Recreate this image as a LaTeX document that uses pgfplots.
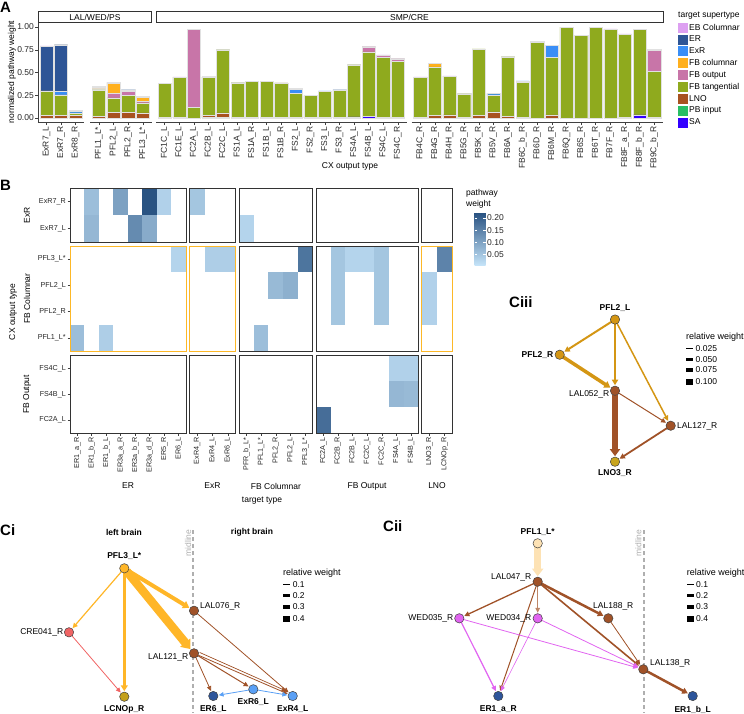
\documentclass[border=0pt]{standalone}
\usepackage{fontspec}
\setmainfont{Liberation Sans}
\setsansfont{Liberation Sans}
\usepackage{pgfplots}
\pgfplotsset{compat=1.18}
\usepackage{pgfplotstable}
\usetikzlibrary{arrows.meta}

% stacked-bar colours (panel A)
\definecolor{cEB}{RGB}{221,160,241}
\definecolor{cER}{RGB}{46,85,150}
\definecolor{cExR}{RGB}{58,142,246}
\definecolor{cFBc}{RGB}{255,176,30}
\definecolor{cFBo}{RGB}{200,117,168}
\definecolor{cFBt}{RGB}{143,170,30}
\definecolor{cLNO}{RGB}{168,82,32}
\definecolor{cPB}{RGB}{40,190,100}
\definecolor{cSA}{RGB}{50,0,255}
\definecolor{barline}{RGB}{225,225,225}
% heatmap (panel B)
\definecolor{hmlo}{RGB}{196,227,248}
\definecolor{hmhi}{RGB}{38,80,128}
\definecolor{orangeb}{RGB}{253,184,39}
% networks (panel C)
\definecolor{nOr}{RGB}{255,182,40}
\definecolor{nSal}{RGB}{240,100,100}
\definecolor{nBr}{RGB}{160,82,40}
\definecolor{nLB}{RGB}{90,160,245}
\definecolor{nDB}{RGB}{45,85,155}
\definecolor{nLC}{RGB}{196,160,28}
\definecolor{nGold}{RGB}{212,150,20}
\definecolor{nLNO}{RGB}{200,165,30}
\definecolor{nPe}{RGB}{253,226,180}
\definecolor{nMag}{RGB}{225,100,240}
\definecolor{midgray}{RGB}{175,175,175}

\newcommand{\fa}{\fontsize{8.5}{10}\selectfont}
\newcommand{\fb}{\fontsize{7.2}{8.6}\selectfont}
\newcommand{\fbig}{\fontsize{15}{18}\selectfont\bfseries}

% ---- panel A data: one table per facet, stacking order bottom->top
\pgfplotstableread{
x SA PB LNO FBt FBo FBc ExR ER EBc
1 0 0 0.030 0.260 0 0.008 0 0.490 0.005
2 0 0 0.030 0.220 0 0.005 0.040 0.510 0.005
3 0 0 0.025 0.030 0 0 0.015 0 0.015
}\tExR
\pgfplotstableread{
x SA PB LNO FBt FBo FBc ExR ER EBc
1 0 0 0.020 0.290 0 0.010 0.005 0.015 0.005
2 0 0 0.065 0.155 0.050 0.110 0.010 0 0.005
3 0 0 0.065 0.180 0.050 0.005 0.010 0 0.003
4 0 0 0.055 0.110 0.015 0.045 0.010 0 0.003
}\tPFL
\pgfplotstableread{
x SA PB LNO FBt FBo FBc ExR ER EBc
1 0 0 0.008 0.370 0 0 0 0 0.005
2 0.005 0 0 0.445 0 0 0 0 0.003
3 0 0 0 0.120 0.855 0 0 0 0.003
4 0 0.010 0.020 0.420 0 0 0 0 0.005
5 0 0.005 0.050 0.695 0 0 0 0 0.005
6 0 0 0.010 0.375 0 0 0.003 0 0.005
7 0 0 0.010 0.390 0 0 0 0 0.003
8 0 0 0.010 0.390 0 0 0 0 0.004
9 0 0 0.010 0.375 0 0 0 0 0.002
10 0 0 0.010 0.258 0 0 0.048 0 0.008
11 0 0 0.010 0.236 0 0 0 0 0
12 0 0 0.005 0.285 0 0 0.008 0 0
13 0 0 0.005 0.295 0 0 0.008 0 0.005
14 0.012 0 0 0.573 0 0 0 0 0.005
15 0.015 0 0 0.713 0.055 0 0 0 0.007
16 0.005 0 0 0.660 0.025 0 0 0 0.005
17 0.004 0 0 0.616 0.030 0 0 0 0.005
}\tFS
\pgfplotstableread{
x SA PB LNO FBt FBo FBc ExR ER EBc
1 0 0 0.004 0.445 0 0 0 0 0.003
2 0 0 0.025 0.537 0 0.038 0 0 0
3 0 0 0.035 0.425 0 0 0 0 0.004
4 0 0 0.003 0.262 0 0 0 0 0.005
5 0 0 0.025 0.735 0 0 0 0 0
6 0 0 0.066 0.188 0 0 0.014 0 0.006
7 0 0 0.015 0.658 0 0 0.008 0 0
8 0.008 0 0 0.385 0 0 0.015 0 0
9 0 0 0 0.835 0 0 0 0 0.005
10 0 0 0.035 0.630 0 0 0.130 0 0
11 0 0 0 1.000 0 0 0 0 0
12 0 0 0 0.908 0 0 0 0 0
13 0 0 0 1.000 0 0 0 0 0
14 0 0 0 0.974 0 0 0 0 0.005
15 0 0 0.003 0.916 0 0 0 0 0.006
16 0.033 0 0 0.945 0 0 0 0 0
17 0.005 0 0 0.505 0.240 0 0 0 0.006
}\tFB

\newcommand{\stackbars}[1]{%
  \addplot[fill=cSA, draw=barline] table[x=x,y=SA]{#1};
  \addplot[fill=cPB, draw=barline] table[x=x,y=PB]{#1};
  \addplot[fill=cLNO, draw=barline] table[x=x,y=LNO]{#1};
  \addplot[fill=cFBt, draw=barline] table[x=x,y=FBt]{#1};
  \addplot[fill=cFBo, draw=barline] table[x=x,y=FBo]{#1};
  \addplot[fill=cFBc, draw=barline] table[x=x,y=FBc]{#1};
  \addplot[fill=cExR, draw=barline] table[x=x,y=ExR]{#1};
  \addplot[fill=cER, draw=barline] table[x=x,y=ER]{#1};
  \addplot[fill=cEB, draw=barline] table[x=x,y=EBc]{#1};
}

% ---- panel B: one heatmap cell = unit square around (col,row)
\pgfplotstableread{
dx dy
-0.5 -0.5
0.5 -0.5
0.5 0.5
-0.5 0.5
}\usq
\newcommand{\tile}[3]{\addplot[mark=none, draw=none, fill=hmhi!#3!hmlo]
  table[x expr=\thisrow{dx}+#1, y expr=\thisrow{dy}+#2]{\usq};}
\newcommand{\facet}[8]{%
  \begin{axis}[hm, at={(#1pt,-#2pt)}, width=#3pt, height=#4pt, xmax=#5, ymax=#6, #7]
  #8
  \end{axis}}

% ---- panel C helpers
\newcommand{\nd}[2]{\addplot[only marks, mark=*, mark size=4.7pt,
  mark options={fill=#2, draw=black!75, line width=0.5pt}] coordinates {#1};}
\newcommand{\ed}[4]{\addplot[no marks, line width=#3pt, color=#4,
  shorten <=4pt, shorten >=5.5pt,
  -{Triangle[length=4.5pt 0.45, width=3.5pt 1.1]}] coordinates {#1 #2};}
\newcommand{\lab}[4][]{\node[inner sep=0pt, font=\fa, #1] at (#2pt,-#3pt) {#4};}
\newcommand{\wk}[3]{\fill[black] (#1pt,{-(#2+#3/2)*1pt}) rectangle ({(#1+7)*1pt},{-(#2-#3/2)*1pt});}

\pgfplotsset{
  barA/.style={scale only axis, anchor=south west, height=100pt,
    ymin=-0.05, ymax=1.05, xmin=0.4, enlargelimits=false,
    ybar stacked, bar width=0.9,
    axis x line*=bottom,
    tick align=outside, major tick length=2.5pt,
    tick style={black!75, line width=0.5pt},
    axis line style={black!75, line width=0.5pt},
    xticklabel style={rotate=90, anchor=east, font=\fa, text=black!85, inner sep=1.5pt},
    yticklabel style={font=\fa, text=black!85, inner sep=1.5pt}},
  hm/.style={scale only axis, anchor=north west, xmin=0.5, ymin=0.5,
    enlargelimits=false, axis on top, xtick=\empty, ytick=\empty,
    tick align=outside, major tick length=2.5pt,
    tick style={black!75, line width=0.5pt},
    axis line style={black!80, line width=0.6pt},
    xtick pos=left, ytick pos=left,
    xticklabel style={rotate=90, anchor=east, font=\fb, text=black!85, inner sep=1.5pt},
    yticklabel style={font=\fb, text=black!85, inner sep=1.5pt}},
  hmor/.style={axis line style={orangeb, line width=0.8pt}},
  rowA/.style={ytick={1,2}, yticklabels={ExR7\_L,ExR7\_R}},
  rowB/.style={ytick={1,2,3,4}, yticklabels={PFL1\_L*,PFL2\_R,PFL2\_L,PFL3\_L*}},
  rowC/.style={ytick={1,2,3}, yticklabels={FC2A\_L,FS4B\_L,FS4C\_L}},
}

\begin{document}
\begin{tikzpicture}
\path[use as bounding box] (0pt,0pt) rectangle (744pt,-713pt);

% ================= panel A =================
\node[font=\fbig, anchor=base west, inner sep=0pt] at (0pt,-12.7pt) {A};
\draw[black!80, line width=0.6pt, fill=white] (38pt,-11.7pt) rectangle (151.7pt,-22.3pt);
\draw[black!80, line width=0.6pt, fill=white] (156pt,-11.7pt) rectangle (663pt,-22.3pt);
\lab{95}{17}{LAL/WED/PS}
\lab{409.5}{17}{SMP/CRE}
\lab[rotate=90]{12}{72}{normalized pathway weight}
\lab{350}{166}{CX output type}

\begin{axis}[barA, at={(38pt,-122.5pt)}, width=46pt, xmax=3.6,
  axis y line*=left, ytick={0,0.25,0.5,0.75,1},
  yticklabels={0.00,0.25,0.50,0.75,1.00},
  xtick={1,2,3}, xticklabels={ExR7\_L,ExR7\_R,ExR8\_R}]
\stackbars{\tExR}
\end{axis}

\begin{axis}[barA, hide y axis, at={(90pt,-122.5pt)}, width=61.7pt, xmax=4.6,
  xtick={1,...,4}, xticklabels={PFL1\_L*,PFL2\_L,PFL2\_R,PFL3\_L*}]
\stackbars{\tPFL}
\end{axis}

\begin{axis}[barA, hide y axis, at={(156pt,-122.5pt)}, width=250.5pt, xmax=17.6,
  xtick={1,...,17},
  xticklabels={FC1C\_L,FC1E\_L,FC2A\_L,FC2B\_L,FC2C\_L,FS1A\_L,FS1A\_R,FS1B\_L,FS1B\_R,FS2\_L,FS2\_R,FS3\_L,FS3\_R,FS4A\_L,FS4B\_L,FS4C\_L,FS4C\_R}]
\stackbars{\tFS}
\end{axis}

\begin{axis}[barA, hide y axis, at={(411.5pt,-122.5pt)}, width=251.5pt, xmax=17.6,
  xtick={1,...,17},
  xticklabels={FB4C\_R,FB4G\_R,FB4H\_R,FB5G\_R,FB5K\_R,FB5V\_R,FB6A\_R,FB6C\_b\_R,FB6D\_R,FB6M\_R,FB6Q\_R,FB6S\_R,FB6T\_R,FB7F\_R,FB8F\_a\_R,FB8F\_b\_R,FB9C\_b\_R},
  legend entries={SA,PB input,LNO,FB tangential,FB output,FB columnar,ExR,ER,EB Columnar},
  reverse legend,
  legend style={at={(axis description cs:1.0596,1.0)}, anchor=north west,
    draw=none, fill=none, font=\fa, row sep=1.85pt, inner sep=0pt,
    nodes={inner sep=1pt}},
  legend cell align=left,
  legend image code/.code={\draw[#1, draw=none] (0pt,-5pt) rectangle (10pt,5pt);}]
\stackbars{\tFB}
\end{axis}
\lab[anchor=west]{678}{16}{target supertype}

% ================= panel B =================
\node[font=\fbig, anchor=base west, inner sep=0pt] at (0pt,-190pt) {B};

% row ExR
\facet{70}{188}{116}{54.3}{8.5}{2.5}{rowA}{%
  \tile{2}{2}{25}\tile{4}{2}{45}\tile{6}{2}{98}\tile{7}{2}{12}
  \tile{2}{1}{30}\tile{5}{1}{60}\tile{6}{1}{38}}
\facet{189.5}{188}{46}{54.3}{3.5}{2.5}{}{\tile{1}{2}{20}}
\facet{239}{188}{73.7}{54.3}{5.5}{2.5}{}{\tile{1}{1}{10}}
\facet{316}{188}{102.3}{54.3}{7.5}{2.5}{}{}
\facet{421.7}{188}{30.6}{54.3}{2.5}{2.5}{}{}
% row FB Columnar
\facet{70}{246}{116}{105}{8.5}{4.5}{rowB,hmor}{%
  \tile{8}{4}{10}\tile{1}{1}{25}\tile{3}{1}{14}}
\facet{189.5}{246}{46}{105}{3.5}{4.5}{hmor}{\tile{2}{4}{14}\tile{3}{4}{14}}
\facet{239}{246}{73.7}{105}{5.5}{4.5}{}{%
  \tile{5}{4}{75}\tile{3}{3}{28}\tile{4}{3}{35}\tile{2}{1}{25}}
\facet{316}{246}{102.3}{105}{7.5}{4.5}{}{%
  \tile{2}{4}{20}\tile{3}{4}{10}\tile{4}{4}{10}\tile{5}{4}{20}
  \tile{2}{3}{20}\tile{5}{3}{20}\tile{2}{2}{20}\tile{5}{2}{20}}
\facet{421.7}{246}{30.6}{105}{2.5}{4.5}{hmor}{%
  \tile{2}{4}{65}\tile{1}{3}{12}\tile{1}{2}{12}}
% row FB Output
\facet{70}{355.7}{116}{77.3}{8.5}{3.5}{rowC, xtick={1,...,8},
  xticklabels={ER1\_a\_R,ER1\_b\_R,ER1\_b\_L,ER3a\_a\_R,ER3a\_b\_R,ER3a\_d\_R,ER5\_R,ER6\_L}}{}
\facet{189.5}{355.7}{46}{77.3}{3.5}{3.5}{xtick={1,2,3},
  xticklabels={ExR4\_R,ExR4\_L,ExR6\_L}}{}
\facet{239}{355.7}{73.7}{77.3}{5.5}{3.5}{xtick={1,...,5},
  xticklabels={PFR\_b\_L*,PFL1\_L*,PFL2\_R,PFL2\_L,PFL3\_L*}}{}
\facet{316}{355.7}{102.3}{77.3}{7.5}{3.5}{xtick={1,...,7},
  xticklabels={FC2A\_L,FC2B\_R,FC2B\_L,FC2C\_L,FC2C\_R,FS4A\_L,FS4B\_L}}{%
  \tile{6}{3}{12}\tile{7}{3}{12}\tile{6}{2}{30}\tile{7}{2}{28}\tile{1}{1}{80}}
\facet{421.7}{355.7}{30.6}{77.3}{2.5}{3.5}{xtick={1,2},
  xticklabels={LNO3\_R,LCNOp\_R}}{}

\lab[rotate=90]{27}{215}{ExR}
\lab[rotate=90]{27}{298.5}{FB Columnar}
\lab[rotate=90]{27}{394.3}{FB Output}
\lab[rotate=90]{13}{312}{CX output type}
\lab{128}{486}{ER}
\lab{212.5}{486}{ExR}
\lab{276}{486}{FB Columnar}
\lab{367}{486}{FB Output}
\lab{437}{486}{LNO}
\lab{262}{501}{target type}
\lab[anchor=west]{466}{193}{pathway}
\lab[anchor=west]{466}{204.5}{weight}

\begin{axis}[at={(466pt,-212pt)}, anchor=north west, scale only axis,
  width=1pt, height=53pt, hide axis,
  colormap={hm}{color=(hmlo) color=(hmhi)},
  point meta min=0.005, point meta max=0.225,
  colorbar,
  colorbar style={at={(parent axis.north west)}, anchor=north west,
    width=11pt, height=53pt,
    ytick={0.05,0.10,0.15,0.20}, yticklabels={0.05,0.10,0.15,0.20},
    yticklabel style={font=\fa, text=black!85, inner sep=1.5pt},
    axis line style={draw=none}, major tick length=2.2pt,
    tick style={white, line width=0.6pt}}]
\addplot[draw=none] coordinates {(0,0)};
\end{axis}

% ================= panel C (pixel coordinates) =================
\node[font=\fbig, anchor=base west, inner sep=0pt] at (509pt,-307pt) {Ciii};
\node[font=\fbig, anchor=base west, inner sep=0pt] at (0pt,-535pt) {Ci};
\node[font=\fbig, anchor=base west, inner sep=0pt] at (383pt,-531.7pt) {Cii};

\begin{axis}[at={(0pt,0pt)}, anchor=north west, scale only axis,
  width=744pt, height=713pt, xmin=0, xmax=744, ymin=0, ymax=713,
  y dir=reverse, hide axis, clip=false]
% midlines
\addplot[no marks, midgray, line width=1.1pt, dash pattern=on 4pt off 3pt] coordinates {(193,530) (193,713)};
\addplot[no marks, midgray, line width=1.1pt, dash pattern=on 4pt off 3pt] coordinates {(644,530) (644,713)};
% --- Ci
\ed{(124.3,568.3)}{(69,632.3)}{1.2}{nOr}
\ed{(124.3,568.3)}{(124.3,696.7)}{3}{nOr}
\ed{(124.3,568.3)}{(194,610.7)}{4}{nOr}
\ed{(124.3,568.3)}{(194,653.3)}{8.5}{nOr}
\ed{(69,632.3)}{(124.3,696.7)}{0.8}{nSal}
\ed{(194,610.7)}{(292.7,696)}{0.8}{nBr}
\ed{(194,653.3)}{(213.3,696)}{0.8}{nBr}
\ed{(194,653.3)}{(253.3,689.3)}{1}{nBr}
\ed{(194,653.3)}{(292.7,696)}{0.8}{nBr}
\ed{(196,650.8)}{(291.5,693.3)}{0.7}{nBr}
\ed{(253.3,689.3)}{(213.3,696)}{0.8}{nLB}
\ed{(253.3,689.3)}{(292.7,696)}{0.8}{nLB}
\nd{(124.3,568.3)}{nOr}
\nd{(69,632.3)}{nSal}
\nd{(124.3,696.7)}{nLC}
\nd{(194,610.7)}{nBr}
\nd{(194,653.3)}{nBr}
\nd{(213.3,696)}{nDB}
\nd{(253.3,689.3)}{nLB}
\nd{(292.7,696)}{nLB}
% --- Cii
\ed{(537.7,543.3)}{(537.7,581.7)}{7}{nPe}
\ed{(537.7,581.7)}{(459.3,618.3)}{1.3}{nBr}
\ed{(537.7,581.7)}{(537.7,618.3)}{1}{nBr!70!white}
\ed{(537.7,581.7)}{(498.3,696)}{1}{nBr}
\ed{(537.7,581.7)}{(608.3,618.3)}{2.5}{nBr}
\ed{(537.7,581.7)}{(643.3,669.3)}{1.6}{nBr}
\ed{(608.3,618.3)}{(643.3,669.3)}{0.8}{nBr}
\ed{(643.3,669.3)}{(692.7,696)}{2.5}{nBr}
\ed{(459.3,618.3)}{(498.3,696)}{1.2}{nMag}
\ed{(459.3,618.3)}{(643.3,669.3)}{0.8}{nMag}
\ed{(537.7,618.3)}{(498.3,696)}{0.6}{nMag}
\ed{(537.7,618.3)}{(643.3,669.3)}{0.8}{nMag}
\nd{(537.7,543.3)}{nPe}
\nd{(537.7,581.7)}{nBr}
\nd{(459.3,618.3)}{nMag}
\nd{(537.7,618.3)}{nMag}
\nd{(608.3,618.3)}{nBr}
\nd{(643.3,669.3)}{nBr}
\nd{(498.3,696)}{nDB}
\nd{(692.7,696)}{nDB}
% --- Ciii
\ed{(615,319.5)}{(559.7,354.7)}{2}{nGold}
\ed{(615,319.5)}{(615,390.7)}{2.5}{nGold}
\ed{(615,319.5)}{(670.7,425.7)}{1.5}{nGold}
\ed{(559.7,354.7)}{(615,390.7)}{3.5}{nGold}
\ed{(615,390.7)}{(615,461.7)}{6}{nBr}
\ed{(615,390.7)}{(670.7,425.7)}{1}{nBr}
\ed{(670.7,425.7)}{(615,461.7)}{1.8}{nBr}
\nd{(615,319.5)}{nGold}
\nd{(559.7,354.7)}{nGold}
\nd{(615,390.7)}{nBr}
\nd{(670.7,425.7)}{nBr}
\nd{(615,461.7)}{nLNO}
\end{axis}

% labels Ci
\lab[text=midgray, rotate=90]{188}{543}{midline}
\lab[text=midgray, rotate=90]{638.3}{543}{midline}
\lab{124}{532}{\textbf{left brain}}
\lab{252}{532}{\textbf{right brain}}
\lab{124.3}{556}{\textbf{PFL3\_L*}}
\lab[anchor=east]{63.5}{632.3}{CRE041\_R}
\lab{124.3}{709.5}{\textbf{LCNOp\_R}}
\lab[anchor=west]{200}{606}{LAL076\_R}
\lab[anchor=east]{188.5}{657}{LAL121\_R}
\lab{213.3}{709.5}{\textbf{ER6\_L}}
\lab{253.3}{701.7}{\textbf{ExR6\_L}}
\lab{292.7}{709.5}{\textbf{ExR4\_L}}
% labels Cii
\lab{537.7}{532.3}{\textbf{PFL1\_L*}}
\lab[anchor=east]{531.5}{577.7}{LAL047\_R}
\lab[anchor=east]{453.5}{618.3}{WED035\_R}
\lab[anchor=east]{531.5}{618.3}{WED034\_R}
\lab{613.3}{606.7}{LAL188\_R}
\lab[anchor=west]{650}{663.3}{LAL138\_R}
\lab{498.3}{709.5}{\textbf{ER1\_a\_R}}
\lab{692.7}{709.5}{\textbf{ER1\_b\_L}}
% labels Ciii
\lab{615}{307.7}{\textbf{PFL2\_L}}
\lab[anchor=east]{553.5}{354.7}{\textbf{PFL2\_R}}
\lab[anchor=east]{609.5}{394.5}{LAL052\_R}
\lab[anchor=west]{677}{426}{LAL127\_R}
\lab{615}{473}{\textbf{LNO3\_R}}

% relative weight legends
\lab[anchor=west, font=\fontsize{9}{11}\selectfont]{283}{572.7}{relative weight}
\wk{283}{584.3}{1.5}\wk{283}{595.7}{3}\wk{283}{607}{4.5}\wk{283}{618.7}{6}
\lab[anchor=west]{292.7}{584.3}{0.1}\lab[anchor=west]{292.7}{595.7}{0.2}
\lab[anchor=west]{292.7}{607}{0.3}\lab[anchor=west]{292.7}{618.7}{0.4}

\lab[anchor=west, font=\fontsize{9}{11}\selectfont]{686.7}{572.7}{relative weight}
\wk{686.7}{584.3}{1.5}\wk{686.7}{595.7}{3}\wk{686.7}{607}{4.5}\wk{686.7}{618.7}{6}
\lab[anchor=west]{696}{584.3}{0.1}\lab[anchor=west]{696}{595.7}{0.2}
\lab[anchor=west]{696}{607}{0.3}\lab[anchor=west]{696}{618.7}{0.4}

\lab[anchor=west, font=\fontsize{9}{11}\selectfont]{686}{337.3}{relative weight}
\wk{686}{348.3}{1.5}\wk{686}{359.3}{3}\wk{686}{370}{4.5}\wk{686}{381.7}{6}
\lab[anchor=west]{695.5}{348.3}{0.025}\lab[anchor=west]{695.5}{359.3}{0.050}
\lab[anchor=west]{695.5}{370}{0.075}\lab[anchor=west]{695.5}{381.7}{0.100}

\end{tikzpicture}
\end{document}
